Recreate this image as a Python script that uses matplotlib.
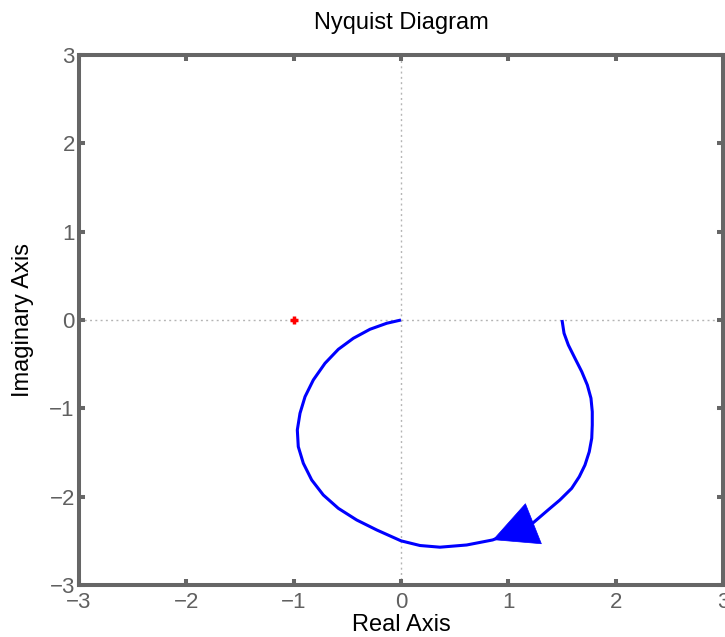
import matplotlib
matplotlib.use("Agg")
import matplotlib.pyplot as plt
from matplotlib.patches import ArrowStyle

plt.rcParams['font.family'] = ['Liberation Sans', 'DejaVu Sans']

# Nyquist curve (positive frequencies, w: 0 -> inf)
re = [1.50, 1.519, 1.559, 1.621, 1.684, 1.736, 1.770, 1.782, 1.782, 1.777,
      1.754, 1.714, 1.661, 1.590, 1.48, 1.37, 1.233, 1.04, 0.854, 0.612,
      0.363, 0.177, 0.0, -0.226, -0.413, -0.584, -0.724, -0.832, -0.910,
      -0.957, -0.966, -0.941, -0.894, -0.817, -0.708, -0.584, -0.444,
      -0.289, -0.133, 0.0]
im = [0.0, -0.150, -0.283, -0.434, -0.585, -0.736, -0.886, -1.038, -1.189, -1.339,
      -1.491, -1.642, -1.774, -1.906, -2.038, -2.151, -2.294, -2.40, -2.49, -2.547,
      -2.572, -2.553, -2.50, -2.377, -2.264, -2.132, -1.981, -1.811, -1.622,
      -1.434, -1.245, -1.056, -0.868, -0.679, -0.490, -0.332, -0.207,
      -0.105, -0.037, 0.0]
arrow_tip = 18
arrow_base = 17

crit_re = [-1]
crit_im = [0]

ticks = [-3, -2, -1, 0, 1, 2, 3]

fig = plt.figure(figsize=(7.25, 6.37), dpi=100)
ax = fig.add_axes([79 / 725, 52 / 637, 644 / 725, 530 / 637])

ax.axhline(0, color='#b4b4b4', lw=1.0, dashes=(1.4, 2.4), zorder=1)
ax.axvline(0, color='#b4b4b4', lw=1.0, dashes=(1.4, 2.4), zorder=1)

ax.plot(re, im, color='#0000ff', lw=2.2, zorder=3,
        solid_joinstyle='round', solid_capstyle='butt')
ax.plot(crit_re, crit_im, '+', color='#ff0000', ms=6, mew=2.5, zorder=4)

ax.annotate('', xy=(re[arrow_tip], im[arrow_tip]),
            xytext=(re[arrow_base], im[arrow_base]),
            arrowprops=dict(arrowstyle=ArrowStyle('-|>', head_length=31, head_width=15.5),
                            color='#0000ff', lw=0.5, shrinkA=0, shrinkB=0,
                            mutation_scale=1),
            zorder=5)

ax.set_xlim(-3, 3)
ax.set_ylim(-3, 3)
ax.set_xticks(ticks)
ax.set_yticks(ticks)

for s in ax.spines.values():
    s.set_color('#666666')
    s.set_linewidth(2.9)

ax.tick_params(direction='in', length=4.5, width=2.9, color='#666666',
               labelcolor='#606060', labelsize=16, top=True, right=True)
ax.tick_params(axis='x', pad=5)
ax.tick_params(axis='y', pad=3)

ax.set_title('Nyquist Diagram', fontsize=17, pad=19)
ax.set_xlabel('Real Axis', fontsize=17, labelpad=1)
ax.set_ylabel('Imaginary Axis', fontsize=17, labelpad=11)

fig.savefig('out.png', dpi=100)
